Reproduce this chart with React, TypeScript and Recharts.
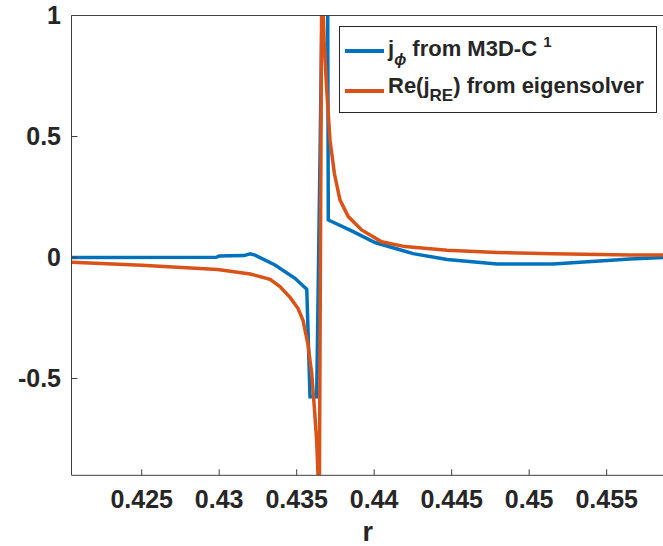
import { LineChart, Line, XAxis, YAxis, Legend } from "recharts";

// r grid and j values
const blueR = [
  0.4205, 0.4298, 0.43, 0.4316, 0.432, 0.43231, 0.4336, 0.43489, 0.43565,
  0.43586, 0.43629, 0.43664, 0.437, 0.43704, 0.43855, 0.44005, 0.44199,
  0.44251, 0.4447, 0.44793, 0.45154, 0.45328, 0.45651, 0.4587,
];
const blueJ = [
  0.0, 0.001, 0.006, 0.008, 0.015, 0.01, -0.031, -0.086, -0.131,
  -0.575, -0.575, 1.05, 1.05, 0.155, 0.11, 0.062, 0.026,
  0.016, -0.008, -0.027, -0.027, -0.02, -0.006, 0.0,
];

const orangeR = [
  0.4205, 0.425, 0.4299, 0.432, 0.43328, 0.43392, 0.43457, 0.43508, 0.43541,
  0.43573, 0.43597, 0.43614, 0.43629, 0.43641, 0.43645, 0.43662, 0.43678,
  0.43694, 0.43715, 0.43743, 0.43779, 0.43833, 0.43919, 0.44048, 0.44199,
  0.4447, 0.44793, 0.45154, 0.45651, 0.4587,
];
const orangeJ = [
  -0.02, -0.032, -0.05, -0.068, -0.09, -0.12, -0.165, -0.21, -0.26,
  -0.36, -0.48, -0.62, -0.76, -0.95, -1.15, 1.2, 0.88,
  0.69, 0.485, 0.348, 0.238, 0.169, 0.114, 0.065, 0.045,
  0.03, 0.021, 0.016, 0.01, 0.01,
];

const xTicks = [0.425, 0.43, 0.435, 0.44, 0.445, 0.45, 0.455];
const yTicks = [-0.5, 0, 0.5, 1];

const blueData = blueR.map((r, i) => ({ r, j: blueJ[i] }));
const orangeData = orangeR.map((r, i) => ({ r, j: orangeJ[i] }));

const BLUE = "#0072BD";
const ORANGE = "#D95319";
const AXIS = "#404040";
const TEXT = "#262626";
const FONT = "'Liberation Sans', Arial, sans-serif";

const tickStyle = { fontSize: 25, fontWeight: 700, fill: TEXT, fontFamily: FONT };

function LegendBox() {
  const row = (color: string, label: React.ReactNode) => (
    <div style={{ display: "flex", alignItems: "center", height: 40 }}>
      <span style={{ width: 39, height: 3.5, background: color, marginRight: 4, flex: "none" }} />
      <span style={{ fontSize: 22, fontWeight: 700, color: TEXT, whiteSpace: "nowrap", lineHeight: "40px" }}>{label}</span>
    </div>
  );
  return (
    <div
      style={{
        boxSizing: "border-box",
        width: 318,
        height: 87,
        border: `1px solid ${TEXT}`,
        background: "#fff",
        padding: "4px 5px",
        fontFamily: FONT,
      }}
    >
      {row(
        BLUE,
        <>
          j<sub style={{ fontStyle: "italic", fontSize: 16, verticalAlign: -9 }}>ϕ</sub> from M3D-C{" "}
          <sup style={{ fontSize: 15, verticalAlign: 9 }}>1</sup>
        </>
      )}
      {row(
        ORANGE,
        <>
          Re(j<sub style={{ fontSize: 17, verticalAlign: -8 }}>RE</sub>) from eigensolver
        </>
      )}
    </div>
  );
}

export default function App() {
  return (
    <div style={{ position: "absolute", left: 0, top: 0, width: 663, height: 546, overflow: "hidden", background: "#fff" }}>
      <LineChart
        width={665}
        height={546}
        margin={{ top: 14.5, right: 0, bottom: 0, left: 0 }}
        style={{ fontFamily: FONT }}
      >
        <XAxis
          xAxisId="bottom"
          dataKey="r"
          type="number"
          domain={[0.42047, 0.4587]}
          allowDataOverflow
          ticks={xTicks}
          tickFormatter={(v: number) => String(v)}
          height={70.7}
          stroke={AXIS}
          tickSize={-6}
          tickMargin={20.7}
          tick={tickStyle}
          label={{ value: "r", position: "insideBottom", offset: 5, fontSize: 27, fontWeight: 700, fill: TEXT }}
        />
        <XAxis
          xAxisId="top"
          orientation="top"
          dataKey="r"
          type="number"
          domain={[0.42047, 0.4587]}
          allowDataOverflow
          ticks={xTicks}
          height={1}
          stroke={AXIS}
          tickSize={-6}
          tick={false}
        />
        <YAxis
          yAxisId="left"
          type="number"
          domain={[-0.9, 1]}
          allowDataOverflow
          ticks={yTicks}
          width={71.5}
          stroke={AXIS}
          tickSize={-6}
          tickMargin={16.5}
          tick={tickStyle}
        />
        <YAxis
          yAxisId="right"
          orientation="right"
          type="number"
          domain={[-0.9, 1]}
          allowDataOverflow
          ticks={yTicks}
          width={1}
          stroke={AXIS}
          tickSize={-6}
          tick={false}
        />
        <Legend
          layout="vertical"
          align="center"
          verticalAlign="middle"
          content={() => <LegendBox />}
          wrapperStyle={{ position: "absolute", left: 339, top: 26, width: 318, height: 87 }}
        />
        <Line
          xAxisId="bottom"
          yAxisId="left"
          data={blueData}
          dataKey="j"
          name="jphi"
          type="linear"
          stroke={BLUE}
          strokeWidth={3.5}
          dot={false}
          isAnimationActive={false}
        />
        <Line
          xAxisId="bottom"
          yAxisId="left"
          data={orangeData}
          dataKey="j"
          name="jre"
          type="linear"
          stroke={ORANGE}
          strokeWidth={3.5}
          dot={false}
          isAnimationActive={false}
        />
      </LineChart>
    </div>
  );
}
